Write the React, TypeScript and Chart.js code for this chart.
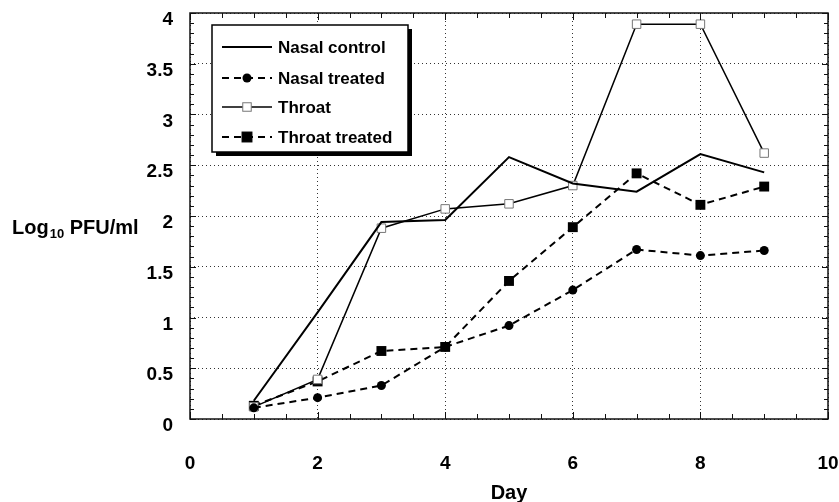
import React, { useEffect, useRef } from "react";
import { Chart, registerables } from "chart.js";

Chart.register(...registerables);

const days = [1, 2, 3, 4, 5, 6, 7, 8, 9];
const nasalControl = [0.18, 1.05, 1.94, 1.96, 2.58, 2.32, 2.24, 2.61, 2.43];
const nasalTreated = [0.11, 0.21, 0.33, 0.71, 0.92, 1.27, 1.67, 1.61, 1.66];
const throat = [0.12, 0.39, 1.88, 2.07, 2.12, 2.3, 3.89, 3.89, 2.62];
const throatTreated = [0.13, 0.37, 0.67, 0.71, 1.36, 1.89, 2.42, 2.11, 2.29];
const seriesNames = ["Nasal control", "Nasal treated", "Throat", "Throat treated"];
const xAxisTitle = "Day";
const yAxisTitleParts = ["Log", "10", " PFU/ml"];

const FONT = "'Liberation Sans', Arial, Helvetica, sans-serif";

function pts(vals: number[]) {
  return days.map((d, i) => ({ x: d, y: vals[i] }));
}

const framePlugin = {
  id: "frameTicks",
  afterDatasetsDraw(chart: any) {
    const ctx = chart.ctx;
    const ca = chart.chartArea;
    const xs = chart.scales.x;
    const ys = chart.scales.y;
    ctx.save();
    ctx.strokeStyle = "#111";
    ctx.lineWidth = 1;
    for (let v = 0; v <= 4.0001; v += 0.1) {
      const y = Math.round(ys.getPixelForValue(v)) + 0.5;
      const major = Math.abs(v * 2 - Math.round(v * 2)) < 1e-6;
      const len = major ? 6 : 4;
      ctx.beginPath();
      ctx.moveTo(ca.left, y);
      ctx.lineTo(ca.left + len, y);
      ctx.moveTo(ca.right, y);
      ctx.lineTo(ca.right - len, y);
      ctx.stroke();
    }
    for (let v = 0; v <= 10.0001; v += 0.5) {
      const x = Math.round(xs.getPixelForValue(v)) + 0.5;
      const major = Math.abs(v / 2 - Math.round(v / 2)) < 1e-6;
      const len = major ? 7 : 5;
      ctx.beginPath();
      ctx.moveTo(x, ca.bottom);
      ctx.lineTo(x, ca.bottom - len);
      ctx.moveTo(x, ca.top);
      ctx.lineTo(x, ca.top + len);
      ctx.stroke();
    }
    ctx.lineWidth = 1.5;
    ctx.strokeRect(ca.left, ca.top, ca.right - ca.left, ca.bottom - ca.top);
    ctx.restore();
  },
  afterDraw(chart: any) {
    const ctx = chart.ctx;
    const ca = chart.chartArea;
    ctx.save();
    const bx = ca.left + 22;
    const by = ca.top + 12;
    const bw = 196;
    const bh = 127;
    ctx.fillStyle = "#000";
    ctx.fillRect(bx + 4, by + 4, bw, bh);
    ctx.fillStyle = "#fff";
    ctx.fillRect(bx, by, bw, bh);
    ctx.strokeStyle = "#000";
    ctx.lineWidth = 1.5;
    ctx.strokeRect(bx, by, bw, bh);
    const rows = [22, 53, 82, 112];
    chart.data.datasets.forEach((ds: any, i: number) => {
      const y = by + rows[i];
      const x0 = bx + 10;
      const x1 = bx + 60;
      ctx.save();
      ctx.strokeStyle = "#000";
      ctx.lineWidth = ds.borderWidth;
      ctx.setLineDash(ds.borderDash || []);
      ctx.beginPath();
      ctx.moveTo(x0, y);
      ctx.lineTo(x1, y);
      ctx.stroke();
      ctx.setLineDash([]);
      const mx = (x0 + x1) / 2;
      if (ds.pointRadius > 0) {
        if (ds.pointStyle === "circle") {
          ctx.fillStyle = ds.pointBackgroundColor;
          ctx.beginPath();
          ctx.arc(mx, y, ds.pointRadius, 0, Math.PI * 2);
          ctx.fill();
        } else {
          const s = ds.pointRadius * Math.SQRT1_2;
          ctx.fillStyle = ds.pointBackgroundColor;
          ctx.fillRect(mx - s, y - s, 2 * s, 2 * s);
          ctx.lineWidth = 1;
          ctx.strokeStyle = ds.pointBorderColor;
          ctx.strokeRect(mx - s, y - s, 2 * s, 2 * s);
        }
      }
      ctx.fillStyle = "#000";
      ctx.font = "bold 17px " + FONT;
      ctx.textBaseline = "middle";
      ctx.textAlign = "left";
      ctx.fillText(ds.label, bx + 66, y + 1);
      ctx.restore();
    });
    ctx.fillStyle = "#000";
    ctx.textBaseline = "alphabetic";
    ctx.textAlign = "left";
    let x = 12;
    const base = 234;
    ctx.font = "bold 20px " + FONT;
    ctx.fillText(yAxisTitleParts[0], x, base);
    x += ctx.measureText(yAxisTitleParts[0]).width + 1;
    ctx.font = "bold 13px " + FONT;
    ctx.fillText(yAxisTitleParts[1], x, base + 4);
    x += ctx.measureText(yAxisTitleParts[1]).width;
    ctx.font = "bold 20px " + FONT;
    ctx.fillText(yAxisTitleParts[2], x, base);
    ctx.restore();
  },
};

export default function App() {
  const ref = useRef<HTMLCanvasElement>(null);
  useEffect(() => {
    if (!ref.current) return;
    const chart = new Chart(ref.current, {
      type: "line",
      data: {
        datasets: [
          {
            label: seriesNames[0],
            data: pts(nasalControl),
            borderColor: "#000",
            borderWidth: 2,
            pointRadius: 0,
            pointStyle: "circle",
            pointBackgroundColor: "#000",
            pointBorderColor: "#000",
            tension: 0,
          },
          {
            label: seriesNames[1],
            data: pts(nasalTreated),
            borderColor: "#000",
            borderWidth: 2,
            borderDash: [7, 5],
            pointRadius: 4.5,
            pointStyle: "circle",
            pointBackgroundColor: "#000",
            pointBorderColor: "#000",
            pointBorderWidth: 0,
            tension: 0,
          },
          {
            label: seriesNames[2],
            data: pts(throat),
            borderColor: "#000",
            borderWidth: 1.5,
            pointRadius: 6,
            pointStyle: "rect",
            pointBackgroundColor: "#fff",
            pointBorderColor: "#777",
            pointBorderWidth: 1,
            tension: 0,
          },
          {
            label: seriesNames[3],
            data: pts(throatTreated),
            borderColor: "#000",
            borderWidth: 2,
            borderDash: [7, 5],
            pointRadius: 7,
            pointStyle: "rect",
            pointBackgroundColor: "#000",
            pointBorderColor: "#000",
            pointBorderWidth: 0,
            tension: 0,
          },
        ],
      },
      options: {
        responsive: false,
        animation: false,
        layout: { padding: { top: 13, right: 11, left: 0, bottom: 0 } },
        plugins: { legend: { display: false }, tooltip: { enabled: false } },
        scales: {
          x: {
            type: "linear",
            min: 0,
            max: 10,
            afterFit: (s: any) => {
              s.height = 83;
              s.paddingLeft = 0;
              s.paddingRight = 0;
            },
            ticks: {
              stepSize: 2,
              color: "#000",
              padding: 33,
              font: { family: FONT, size: 19, weight: "bold" },
            },
            grid: {
              drawTicks: false,
              tickLength: 0,
              color: "#333",
              lineWidth: 1,
            },
            border: { display: false, dash: [1, 3] },
            title: {
              display: true,
              text: xAxisTitle,
              color: "#000",
              padding: { top: 0, bottom: -3 },
              font: { family: FONT, size: 20, weight: "bold" },
            },
          },
          y: {
            min: 0,
            max: 4,
            afterFit: (s: any) => {
              s.width = 190;
              s.paddingTop = 0;
              s.paddingBottom = 0;
            },
            ticks: {
              stepSize: 0.5,
              color: "#000",
              padding: 17,
              labelOffset: 7,
              callback: (v: any) => String(v),
              font: { family: FONT, size: 19, weight: "bold" },
            },
            grid: {
              drawTicks: false,
              tickLength: 0,
              color: "#333",
              lineWidth: 1,
            },
            border: { display: false, dash: [1, 3] },
          },
        },
      },
      plugins: [framePlugin],
    } as any);
    return () => chart.destroy();
  }, []);
  return (
    <div style={{ position: "fixed", left: 0, top: 0, width: 839, height: 502, background: "#fff" }}>
      <canvas ref={ref} width={839} height={502} style={{ width: 839, height: 502 }} />
    </div>
  );
}
